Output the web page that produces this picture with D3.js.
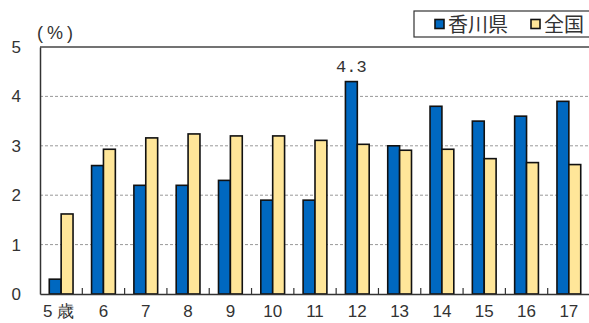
<!DOCTYPE html>
<html><head><meta charset="utf-8">
<script src="https://cdn.jsdelivr.net/npm/d3@7"></script>
<style>
html,body{margin:0;padding:0;background:#fff;}
svg{display:block;}
</style></head>
<body>
<svg id="c" width="589" height="323"></svg>
<script>
const categories = ["5歳","6","7","8","9","10","11","12","13","14","15","16","17"];
const seriesNames = ["香川県","全国"];
const kagawa = [0.3,2.6,2.2,2.2,2.3,1.9,1.9,4.3,3.0,3.8,3.5,3.6,3.9];
const national = [1.62,2.93,3.16,3.24,3.2,3.2,3.11,3.03,2.91,2.93,2.74,2.66,2.62];
const yTicks = [0,1,2,3,4,5];
const colors = ["#0068C0","#FFE699"];
const annotated = [{cat:"12", series:0, text:"4.3"}];

(function(){
const svg = d3.select("#c");
const mLeft = 40, mRight = 590, mTop = 47, mBottom = 294;
const font = "'Liberation Sans', Arial, sans-serif";
const cjk = "'Noto Sans CJK JP', sans-serif";

const x0 = d3.scaleBand().domain(categories).range([mLeft, mRight]).padding(0);
const x1 = d3.scaleBand().domain([0,1]).range([0, x0.bandwidth()]).paddingInner(0).paddingOuter(0.78);
const y = d3.scaleLinear().domain([0,5]).range([mBottom, mTop]);

// gridlines
svg.append("g").selectAll("line").data(yTicks.filter(d=>d>0 && d<5)).join("line")
  .attr("x1", mLeft).attr("x2", mRight).attr("y1", d=>y(d)).attr("y2", d=>y(d))
  .attr("stroke", "#999").attr("stroke-width", 1).attr("stroke-dasharray", "3,2");
// top border
svg.append("line").attr("x1", mLeft).attr("x2", mRight).attr("y1", y(5)).attr("y2", y(5))
  .attr("stroke", "#444").attr("stroke-width", 1.5);

// bars
const data = categories.map((c,i)=>({c, vals:[kagawa[i], national[i]]}));
const g = svg.append("g").selectAll("g").data(data).join("g")
  .attr("transform", d=>`translate(${x0(d.c)},0)`);
g.selectAll("rect").data(d=>d.vals.map((v,k)=>({v,k}))).join("rect")
  .attr("x", d=>x1(d.k)).attr("width", x1.bandwidth())
  .attr("y", d=>y(d.v)).attr("height", d=>y(0)-y(d.v))
  .attr("fill", d=>colors[d.k]).attr("stroke", "#111").attr("stroke-width", 1.6);

// y axis
const ya = svg.append("g").attr("transform", `translate(${mLeft},0)`)
  .call(d3.axisLeft(y).tickValues(yTicks).tickSize(0).tickPadding(19).tickFormat(d3.format("d")));
ya.select(".domain").attr("stroke", "#333").attr("stroke-width", 1.5);
ya.selectAll("text").attr("font-family", font).attr("font-size", 17).attr("fill", "#333");

// x axis
const xa = svg.append("g").attr("transform", `translate(0,${mBottom})`)
  .call(d3.axisBottom(x0).tickSize(0).tickPadding(11));
xa.select(".domain").attr("stroke", "#333").attr("stroke-width", 1.5);
xa.selectAll("text").attr("font-family", font).attr("font-size", 17).attr("fill", "#333")
  .attr("letter-spacing", d=>d.length>1 && isNaN(+d) ? 5 : 0);
// inward tick marks at band boundaries
svg.append("g").selectAll("line").data(categories.slice(1)).join("line")
  .attr("x1", d=>x0(d)).attr("x2", d=>x0(d)).attr("y1", mBottom).attr("y2", mBottom-6)
  .attr("stroke", "#333").attr("stroke-width", 1.2);

// unit label
svg.append("text").attr("x", 37).attr("y", 39).text("(%)")
  .attr("font-family", font).attr("font-size", 18).attr("letter-spacing", 4).attr("fill", "#333");

// annotation
annotated.forEach(a=>{
  const i = categories.indexOf(a.cat);
  const v = a.series===0 ? kagawa[i] : national[i];
  svg.append("text").attr("x", x0(a.cat)+x1(a.series)+x1.bandwidth()/2)
    .attr("y", y(v)-10).attr("text-anchor", "middle")
    .attr("font-family", "'Liberation Mono', 'DejaVu Sans Mono', monospace").attr("font-size", 17)
    .attr("fill", "#333").text(a.text);
});

// legend
const lg = svg.append("g");
lg.append("rect").attr("x", 414).attr("y", 11).attr("width", 190).attr("height", 26)
  .attr("fill", "#fff").attr("stroke", "#333").attr("stroke-width", 1.2);
const lx = [435, 531];
seriesNames.forEach((s,k)=>{
  lg.append("rect").attr("x", lx[k]).attr("y", 19.5).attr("width", 9).attr("height", 9)
    .attr("fill", colors[k]).attr("stroke", "#111").attr("stroke-width", 1.6);
  lg.append("text").attr("x", lx[k]+13).attr("y", 32).text(s)
    .attr("font-family", cjk).attr("font-size", 20).attr("fill", "#333");
});
})();
</script>
</body></html>
